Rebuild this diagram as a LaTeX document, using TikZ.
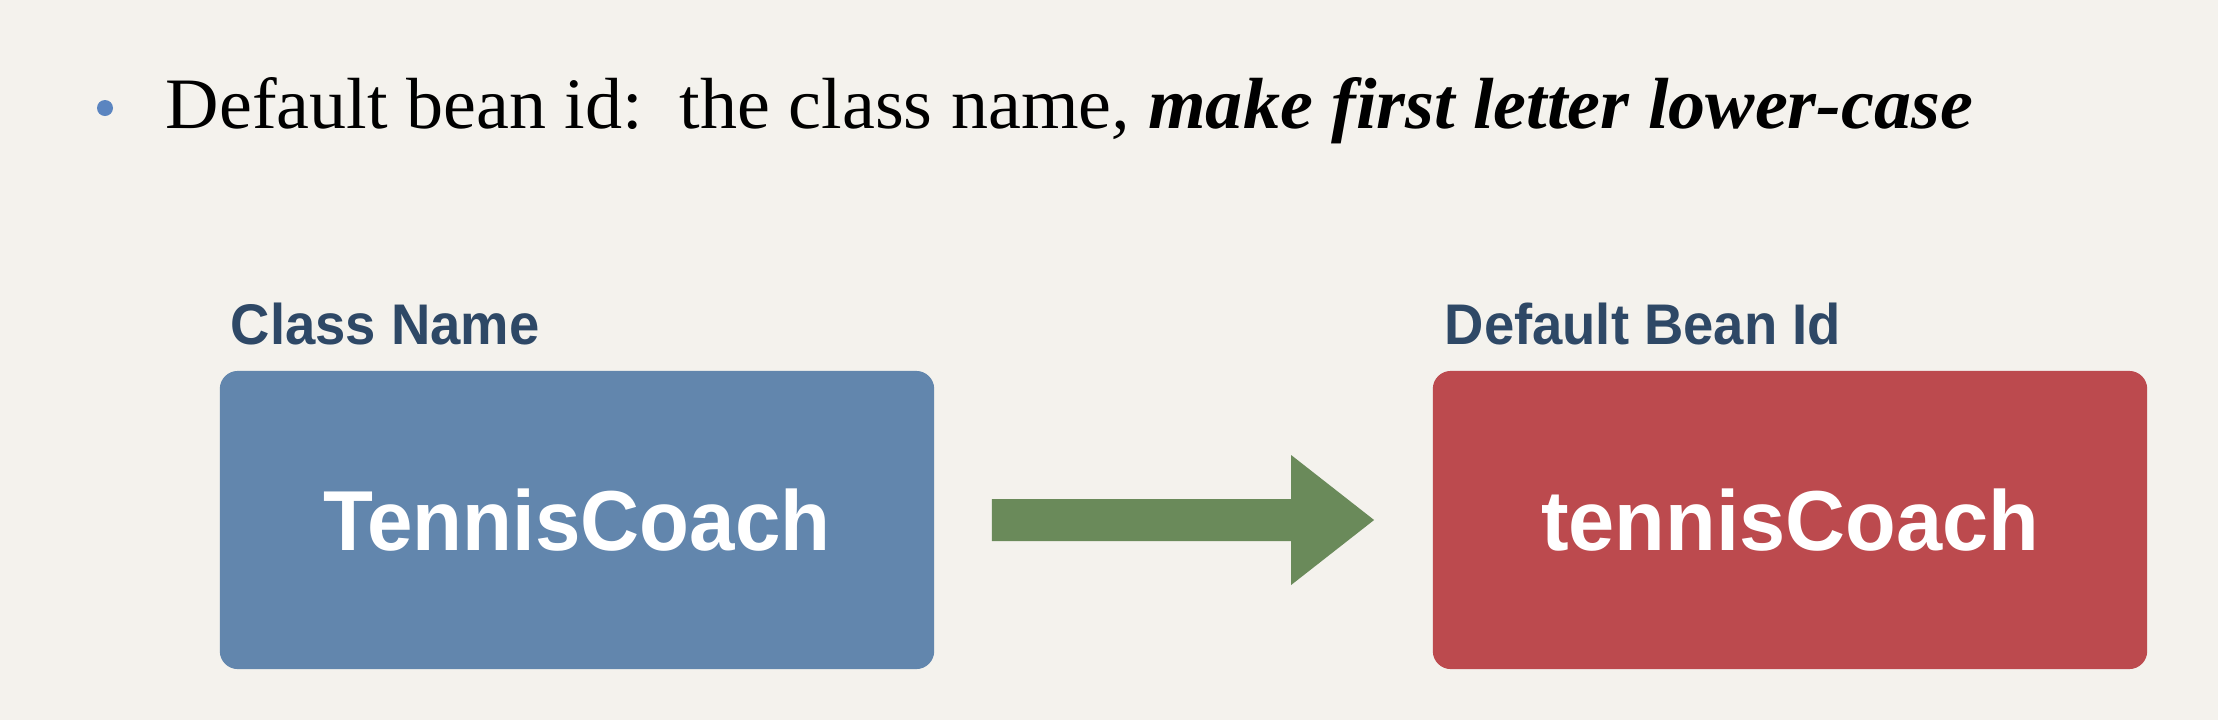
\documentclass[tikz,border=0pt]{standalone}
\usepackage{fontspec}
\setmainfont{Liberation Serif}
\newfontfamily\labelfont{Liberation Sans}
\usetikzlibrary{calc}
\definecolor{bgc}{HTML}{F4F2ED}
\definecolor{bluebox}{HTML}{6286AD}
\definecolor{redbox}{HTML}{BC4A4E}
\definecolor{greenarrow}{HTML}{6A8A5A}
\definecolor{navytext}{HTML}{2E4866}
\definecolor{bulletblue}{HTML}{5B85C0}
\tikzset{
  beanbox/.style={rounded corners=0.18cm, minimum width=7.14cm, minimum height=2.98cm, inner sep=0pt, text=white, font=\labelfont\fontsize{24.2pt}{28pt}\selectfont\bfseries},
  headlabel/.style={anchor=base west, inner sep=0pt, text=navytext, font=\labelfont\fontsize{16.3pt}{19pt}\selectfont\bfseries},
}
\begin{document}
\begin{tikzpicture}[x=0.01cm,y=0.01cm]
\fill[bgc] (0,0) rectangle (2218,720);
\useasboundingbox (0,0) rectangle (2218,720);
% bullet line
\fill[bulletblue] (105,612) circle (8);
\node[anchor=base west, inner sep=0pt, font=\fontsize{20.6pt}{24pt}\selectfont] (title) at (165,592)
  {\scalebox{1.022}[1]{Default bean id:\ \ the class name\textit{,} \textbf{\textit{make first letter lower-case}}}};
% labels
\node[headlabel] (lblA) at (230,376) {\scalebox{0.95}[1]{Class Name}};
\node[headlabel] (lblB) at (1444,376) {\scalebox{0.95}[1]{Default Bean Id}};
% boxes
\node[beanbox, fill=bluebox] (classbox) at (577,200) {\scalebox{0.96}[1]{TennisCoach}};
\node[beanbox, fill=redbox] (beanbox) at (1790,200) {\scalebox{0.975}[1]{tennisCoach}};
% block arrow
\fill[greenarrow]
  ($(classbox.east)+(57,21)$) -- ($(beanbox.west)+(-141,21)$) -- ($(beanbox.west)+(-141,65)$)
  -- ($(beanbox.west)+(-58,0)$)
  -- ($(beanbox.west)+(-141,-65)$) -- ($(beanbox.west)+(-141,-21)$) -- ($(classbox.east)+(57,-21)$) -- cycle;
\end{tikzpicture}
\end{document}
